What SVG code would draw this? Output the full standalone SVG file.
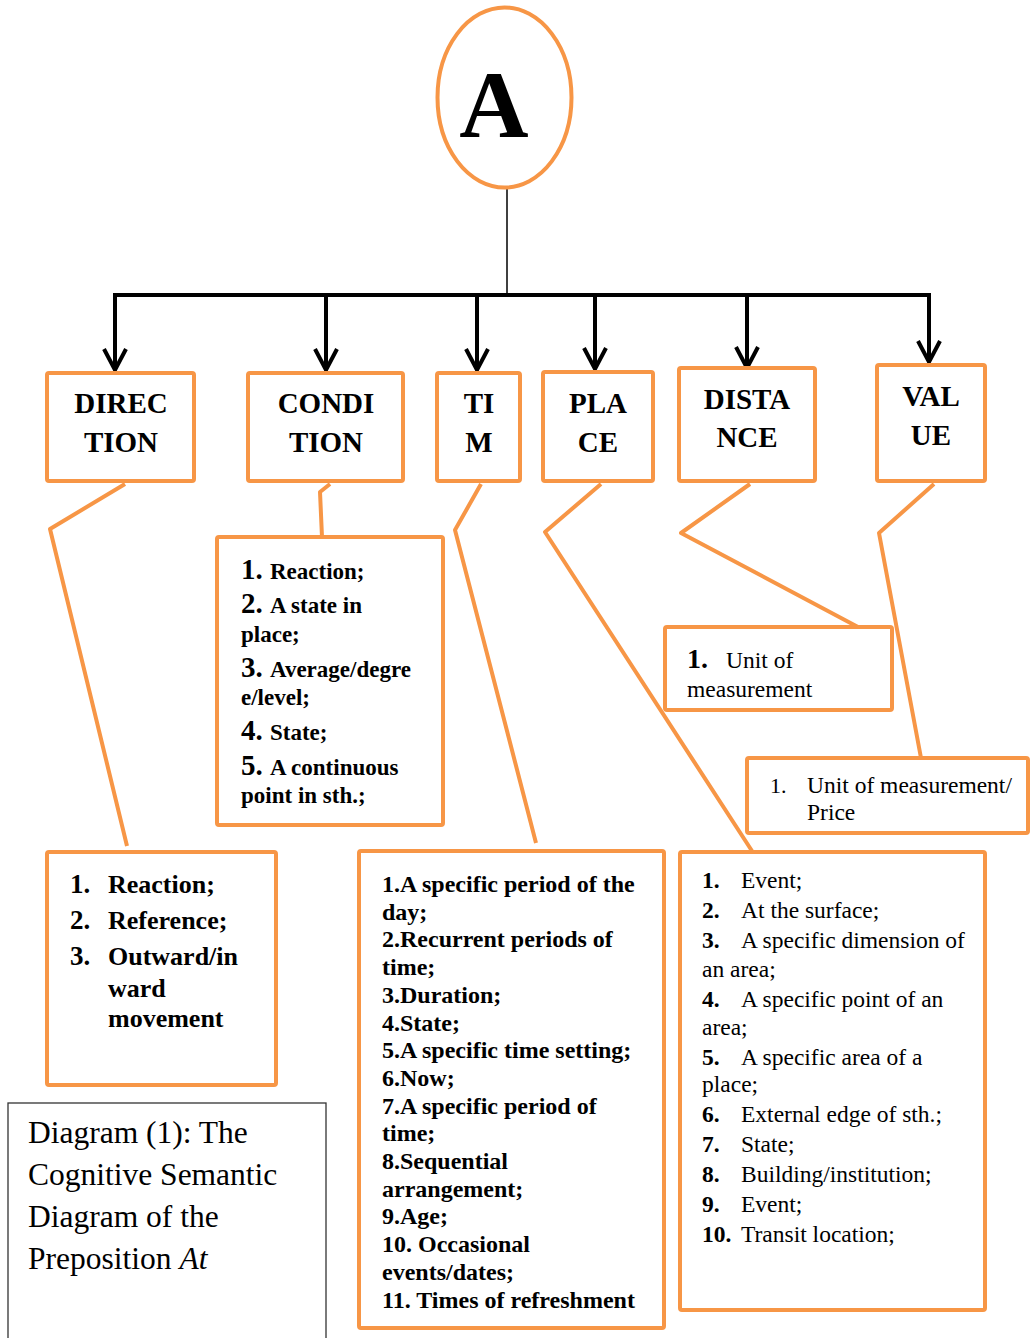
<svg xmlns="http://www.w3.org/2000/svg" width="1030" height="1338" viewBox="0 0 1030 1338">
<style>
  .box { fill: #ffffff; stroke: #F79646; stroke-width: 4; }
  .conn { fill: none; stroke: #F79646; stroke-width: 4; stroke-linejoin: round; }
  .drop { fill: none; stroke: #000000; stroke-width: 4; }
  .t { font-family: "Liberation Serif", "Times New Roman", serif; fill: #000000; }
  .hd { font-size: 29px; font-weight: bold; text-anchor: middle; }
  .b { font-weight: bold; }
</style>
<defs>
  <marker id="arr" markerUnits="userSpaceOnUse" markerWidth="40" markerHeight="40" viewBox="-30 -20 40 40" refX="0" refY="0" orient="auto" overflow="visible">
    <path d="M -21 -11 L 0 0 L -21 11" fill="none" stroke="#000" stroke-width="4" stroke-linejoin="miter"/>
  </marker>
</defs>
<rect width="1030" height="1338" fill="#ffffff"/>

<g id="connectors">
  <line x1="507" y1="188" x2="507" y2="295" stroke="#000" stroke-width="1.5"/>
  <path class="drop" d="M113 295 H931"/>
  <path class="drop" d="M115 295 V370" marker-end="url(#arr)"/>
  <path class="drop" d="M326 295 V370" marker-end="url(#arr)"/>
  <path class="drop" d="M477 295 V370" marker-end="url(#arr)"/>
  <path class="drop" d="M595 295 V369" marker-end="url(#arr)"/>
  <path class="drop" d="M747 295 V368" marker-end="url(#arr)"/>
  <path class="drop" d="M929 295 V362" marker-end="url(#arr)"/>
  <path class="conn" d="M125 484 L50 529 L127 846"/>
  <path class="conn" d="M330 484 L320 492 L322 537"/>
  <path class="conn" d="M481 484 L455 530 L536 843"/>
  <path class="conn" d="M601 484 L545 532 L752 851"/>
  <path class="conn" d="M750 484 L681 533 L858 627"/>
  <path class="conn" d="M934 484 L879 533 L921 758"/>
</g>

<g id="root">
  <ellipse cx="504.5" cy="97.5" rx="67" ry="90" fill="#fff" stroke="#F79646" stroke-width="4"/>
  <text class="t b" x="494" y="137" font-size="96" text-anchor="middle">A</text>
</g>

<g id="direction">
  <rect class="box" x="47" y="373" width="147" height="108" rx="2"/>
  <text class="t hd" x="121" y="413">DIREC</text>
  <text class="t hd" x="121" y="452">TION</text>
</g>
<g id="condition">
  <rect class="box" x="248" y="373" width="155" height="108" rx="2"/>
  <text class="t hd" x="326" y="413">CONDI</text>
  <text class="t hd" x="326" y="452">TION</text>
</g>
<g id="time">
  <rect class="box" x="437" y="373" width="83" height="108" rx="2"/>
  <text class="t hd" x="479" y="413">TI</text>
  <text class="t hd" x="479" y="452">M</text>
</g>
<g id="place">
  <rect class="box" x="543" y="372" width="110" height="109" rx="2"/>
  <text class="t hd" x="598" y="413">PLA</text>
  <text class="t hd" x="598" y="452">CE</text>
</g>
<g id="distance">
  <rect class="box" x="679" y="368" width="136" height="113" rx="2"/>
  <text class="t hd" x="747" y="409">DISTA</text>
  <text class="t hd" x="747" y="447">NCE</text>
</g>
<g id="value">
  <rect class="box" x="877" y="365" width="108" height="116" rx="2"/>
  <text class="t hd" x="931" y="406">VAL</text>
  <text class="t hd" x="931" y="445">UE</text>
</g>

<g id="condition-list">
  <rect class="box" x="217" y="537" width="226" height="288" rx="2"/>
  <g class="t b" font-size="23">
    <text x="241" y="579"><tspan font-size="29">1.</tspan><tspan x="270">Reaction;</tspan></text>
    <text x="241" y="613"><tspan font-size="29">2.</tspan><tspan x="270">A state in</tspan></text>
    <text x="241" y="642">place;</text>
    <text x="241" y="677"><tspan font-size="29">3.</tspan><tspan x="270">Average/degre</tspan></text>
    <text x="241" y="705">e/level;</text>
    <text x="241" y="740"><tspan font-size="29">4.</tspan><tspan x="270">State;</tspan></text>
    <text x="241" y="775"><tspan font-size="29">5.</tspan><tspan x="270">A continuous</tspan></text>
    <text x="241" y="803">point in sth.;</text>
  </g>
</g>

<g id="distance-list">
  <rect class="box" x="665" y="627" width="227" height="83" rx="2"/>
  <text class="t" x="687" y="668"><tspan font-size="28" font-weight="bold">1.</tspan><tspan x="726" font-size="23.5">Unit of</tspan></text>
  <text class="t" x="687" y="697" font-size="23.5">measurement</text>
</g>

<g id="value-list">
  <rect class="box" x="747" y="758" width="281" height="75" rx="2"/>
  <text class="t" x="770" y="793" font-size="22">1.</text>
  <text class="t" x="807" y="793" font-size="23.5">Unit of measurement/</text>
  <text class="t" x="807" y="820" font-size="23.5">Price</text>
</g>

<g id="direction-list">
  <rect class="box" x="47" y="852" width="229" height="233" rx="2"/>
  <g class="t b" font-size="26">
    <text x="70" y="893"><tspan font-size="27">1.</tspan><tspan x="108">Reaction;</tspan></text>
    <text x="70" y="929"><tspan font-size="27">2.</tspan><tspan x="108">Reference;</tspan></text>
    <text x="70" y="965"><tspan font-size="27">3.</tspan><tspan x="108">Outward/in</tspan></text>
    <text x="108" y="997">ward</text>
    <text x="108" y="1027">movement</text>
  </g>
</g>

<g id="time-list">
  <rect class="box" x="359" y="851" width="305" height="477" rx="2"/>
  <g class="t b" font-size="24">
    <text x="382" y="892">1.A specific period of the</text>
    <text x="382" y="919.7">day;</text>
    <text x="382" y="947.4">2.Recurrent periods of</text>
    <text x="382" y="975.1">time;</text>
    <text x="382" y="1002.8">3.Duration;</text>
    <text x="382" y="1030.5">4.State;</text>
    <text x="382" y="1058.2">5.A specific time setting;</text>
    <text x="382" y="1085.9">6.Now;</text>
    <text x="382" y="1113.6">7.A specific period of</text>
    <text x="382" y="1141.3">time;</text>
    <text x="382" y="1169">8.Sequential</text>
    <text x="382" y="1196.7">arrangement;</text>
    <text x="382" y="1224.4">9.Age;</text>
    <text x="382" y="1252.1">10. Occasional</text>
    <text x="382" y="1279.8">events/dates;</text>
    <text x="382" y="1307.5">11. Times of refreshment</text>
  </g>
</g>

<g id="place-list">
  <rect class="box" x="680" y="852" width="305" height="458" rx="2"/>
  <g class="t" font-size="23.5">
    <text x="702" y="888"><tspan font-weight="bold">1.</tspan><tspan x="741">Event;</tspan></text>
    <text x="702" y="918"><tspan font-weight="bold">2.</tspan><tspan x="741">At the surface;</tspan></text>
    <text x="702" y="948"><tspan font-weight="bold">3.</tspan><tspan x="741">A specific dimension of</tspan></text>
    <text x="702" y="977">an area;</text>
    <text x="702" y="1007"><tspan font-weight="bold">4.</tspan><tspan x="741">A specific point of an</tspan></text>
    <text x="702" y="1035">area;</text>
    <text x="702" y="1065"><tspan font-weight="bold">5.</tspan><tspan x="741">A specific area of a</tspan></text>
    <text x="702" y="1092">place;</text>
    <text x="702" y="1122"><tspan font-weight="bold">6.</tspan><tspan x="741">External edge of sth.;</tspan></text>
    <text x="702" y="1152"><tspan font-weight="bold">7.</tspan><tspan x="741">State;</tspan></text>
    <text x="702" y="1182"><tspan font-weight="bold">8.</tspan><tspan x="741">Building/institution;</tspan></text>
    <text x="702" y="1212"><tspan font-weight="bold">9.</tspan><tspan x="741">Event;</tspan></text>
    <text x="702" y="1242"><tspan font-weight="bold">10.</tspan><tspan x="741">Transit location;</tspan></text>
  </g>
</g>

<g id="caption">
  <rect x="8" y="1103" width="318" height="245" fill="#fff" stroke="#333" stroke-width="1.3"/>
  <g class="t" font-size="31.5">
    <text x="28" y="1143">Diagram (1): The</text>
    <text x="28" y="1185">Cognitive Semantic</text>
    <text x="28" y="1227">Diagram of the</text>
    <text x="28" y="1269">Preposition <tspan font-style="italic">At</tspan></text>
  </g>
</g>
</svg>
